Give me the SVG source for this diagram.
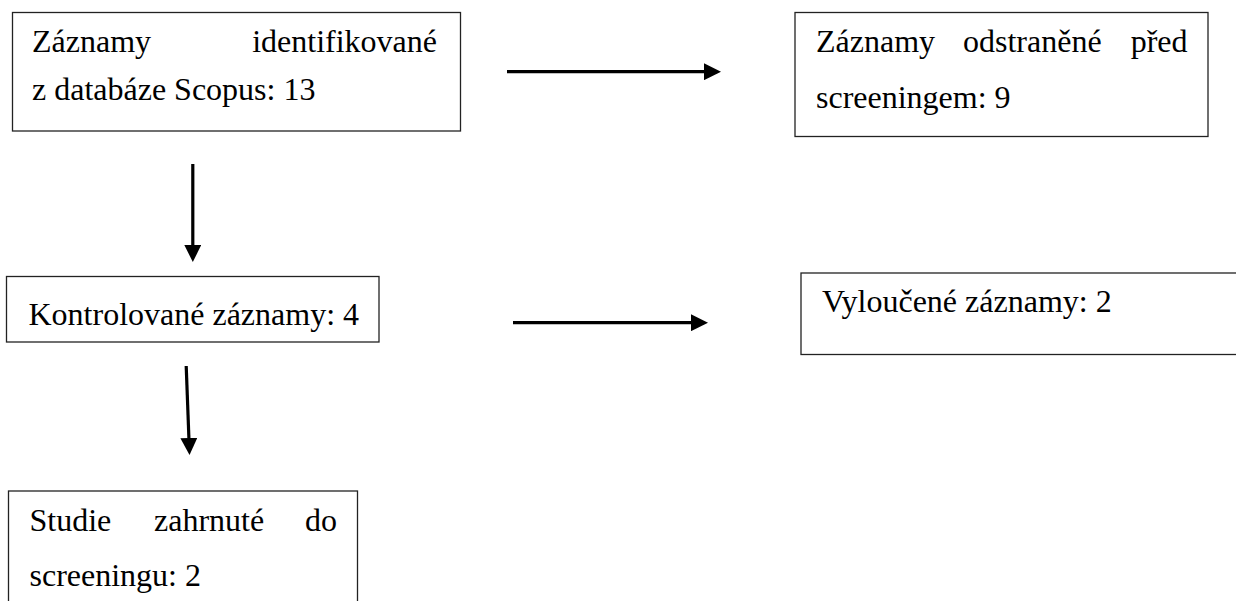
<svg xmlns="http://www.w3.org/2000/svg" width="1236" height="601" viewBox="0 0 1236 601">
<style>
.box{fill:#fff;stroke:#222;stroke-width:1.3}
.t{font-family:'Liberation Serif','Times New Roman','DejaVu Serif',serif;font-size:32px;fill:#000}
.e{text-anchor:end}
.arr{stroke:#000;stroke-width:3.2;fill:none}
</style>
<defs>
<marker id="ah" markerUnits="userSpaceOnUse" markerWidth="17" markerHeight="17" refX="0" refY="8.5" orient="auto" viewBox="0 0 17 17">
<path d="M0,0 L17,8.5 L0,17 z" fill="#000"/>
</marker>
</defs>
<rect width="1236" height="601" fill="#fff"/>
<g id="n1">
<rect class="box" x="12.5" y="12.5" width="448" height="118.5"/>
<text class="t" font-family="Liberation Serif, serif" x="32" y="52">Záznamy</text>
<text class="t e" font-family="Liberation Serif, serif" x="437" y="52">identifikované</text>
<text class="t" font-family="Liberation Serif, serif" x="32" y="100">z databáze Scopus: 13</text>
</g>
<g id="n2">
<rect class="box" x="795" y="12.5" width="413" height="124"/>
<text class="t" font-family="Liberation Serif, serif" x="816" y="52">Záznamy</text>
<text class="t" font-family="Liberation Serif, serif" x="963" y="52">odstraněné</text>
<text class="t e" font-family="Liberation Serif, serif" x="1187.5" y="52">před</text>
<text class="t" font-family="Liberation Serif, serif" x="816" y="108">screeningem: 9</text>
</g>
<g id="n3">
<rect class="box" x="6.5" y="276.5" width="372.5" height="65.5"/>
<text class="t" font-family="Liberation Serif, serif" x="28.5" y="325">Kontrolované záznamy: 4</text>
</g>
<g id="n4">
<rect class="box" x="801" y="273" width="460" height="81.5"/>
<text class="t" font-family="Liberation Serif, serif" x="822" y="311.5">Vyloučené záznamy: 2</text>
</g>
<g id="n5">
<rect class="box" x="8.5" y="491" width="349" height="140"/>
<text class="t" font-family="Liberation Serif, serif" x="29.5" y="531">Studie</text>
<text class="t" font-family="Liberation Serif, serif" x="154" y="531">zahrnuté</text>
<text class="t e" font-family="Liberation Serif, serif" x="337" y="531">do</text>
<text class="t" font-family="Liberation Serif, serif" x="29.5" y="586">screeningu: 2</text>
</g>
<g id="connectors">
<line class="arr" x1="507" y1="71.7" x2="704" y2="71.7" marker-end="url(#ah)"/>
<line class="arr" x1="513" y1="322.7" x2="691" y2="322.7" marker-end="url(#ah)"/>
<line class="arr" x1="192.8" y1="164" x2="192.8" y2="245" marker-end="url(#ah)"/>
<line class="arr" x1="186.2" y1="366" x2="188.9" y2="438" marker-end="url(#ah)"/>
</g>
</svg>
